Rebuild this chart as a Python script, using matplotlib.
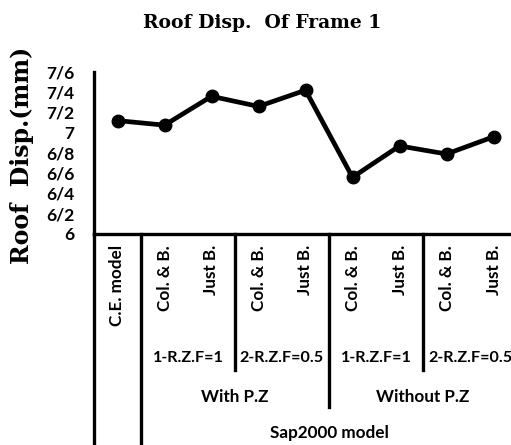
import matplotlib
matplotlib.use('Agg')
import matplotlib.pyplot as plt
import matplotlib.transforms as mtransforms

# data
categories = ['C.E. model', 'Col. & B.', 'Just B.', 'Col. & B.', 'Just B.',
              'Col. & B.', 'Just B.', 'Col. & B.', 'Just B.']
roof_disp = [7.12, 7.075, 7.36, 7.26, 7.42, 6.56, 6.87, 6.79, 6.96]
y_ticks = [6.0, 6.2, 6.4, 6.6, 6.8, 7.0, 7.2, 7.4, 7.6]
y_tick_labels = ['6', '6/2', '6/4', '6/6', '6/8', '7', '7/2', '7/4', '7/6']

# multi-level category groups: (label, centre)
rzf_groups = [('1-R.Z.F=1', 1.5), ('2-R.Z.F=0.5', 3.5), ('1-R.Z.F=1', 5.5), ('2-R.Z.F=0.5', 7.5)]
pz_groups = [('With P.Z', 2.5), ('Without P.Z', 6.5)]
model_groups = [('Sap2000 model', 4.5)]

W, H = 511, 445
fig = plt.figure(figsize=(W / 100, H / 100), dpi=100)
ax = fig.add_axes([94 / W, (H - 234) / H, 423 / W, 162 / H])

word_font = dict(family='Lato', weight='bold', size=12.3)
num_font = dict(family='Lato', weight='bold', size=11.6)

x = list(range(len(roof_disp)))
ax.plot(x, roof_disp, color='black', lw=3.4, marker='o', ms=9, solid_joinstyle='round')
ax.set_xlim(-0.5, 8.5)
ax.set_ylim(6.0, 7.6)
ax.set_yticks(y_ticks)
ax.set_yticklabels(y_tick_labels, fontdict=dict(num_font, size=12.5))
ax.set_xticks(x)
ax.set_xticklabels(categories, rotation=90, fontdict=word_font)
ax.tick_params(axis='y', length=0, pad=14)
ax.tick_params(axis='x', length=0, pad=8)

for side in ['top', 'right']:
    ax.spines[side].set_visible(False)
for side in ['left', 'bottom']:
    ax.spines[side].set_linewidth(2.4)

# table lines below the axis
trans = mtransforms.blended_transform_factory(ax.transData, ax.transAxes)
lw = 2.4
ax.plot([-0.5, -0.5], [0, -1.4], color='black', lw=lw, transform=trans, clip_on=False)
ax.plot([0.5, 0.5], [0, -1.4], color='black', lw=lw, transform=trans, clip_on=False)
ax.plot([2.5, 2.5], [0, -0.84], color='black', lw=lw, transform=trans, clip_on=False)
ax.plot([6.5, 6.5], [0, -0.84], color='black', lw=lw, transform=trans, clip_on=False)
ax.plot([4.5, 4.5], [0, -1.07], color='black', lw=lw, transform=trans, clip_on=False)

for label, pos in rzf_groups:
    ax.text(pos, -0.765, label, transform=trans, ha='center', va='center', **num_font)
for label, pos in pz_groups:
    ax.text(pos, -1.006, label, transform=trans, ha='center', va='center', **word_font)
for label, pos in model_groups:
    ax.text(pos, -1.228, label, transform=trans, ha='center', va='center', **word_font)

fig.text(262 / W, 1 - 23 / H, 'Roof Disp.  Of Frame 1', ha='center', va='center',
         family='DejaVu Serif', weight='bold', size=13.5)
fig.text(22 / W, 1 - 155 / H, 'Roof  Disp.(mm)', ha='center', va='center', rotation=90,
         family='DejaVu Serif', weight='bold', size=17)

fig.savefig('out.png', dpi=100)
